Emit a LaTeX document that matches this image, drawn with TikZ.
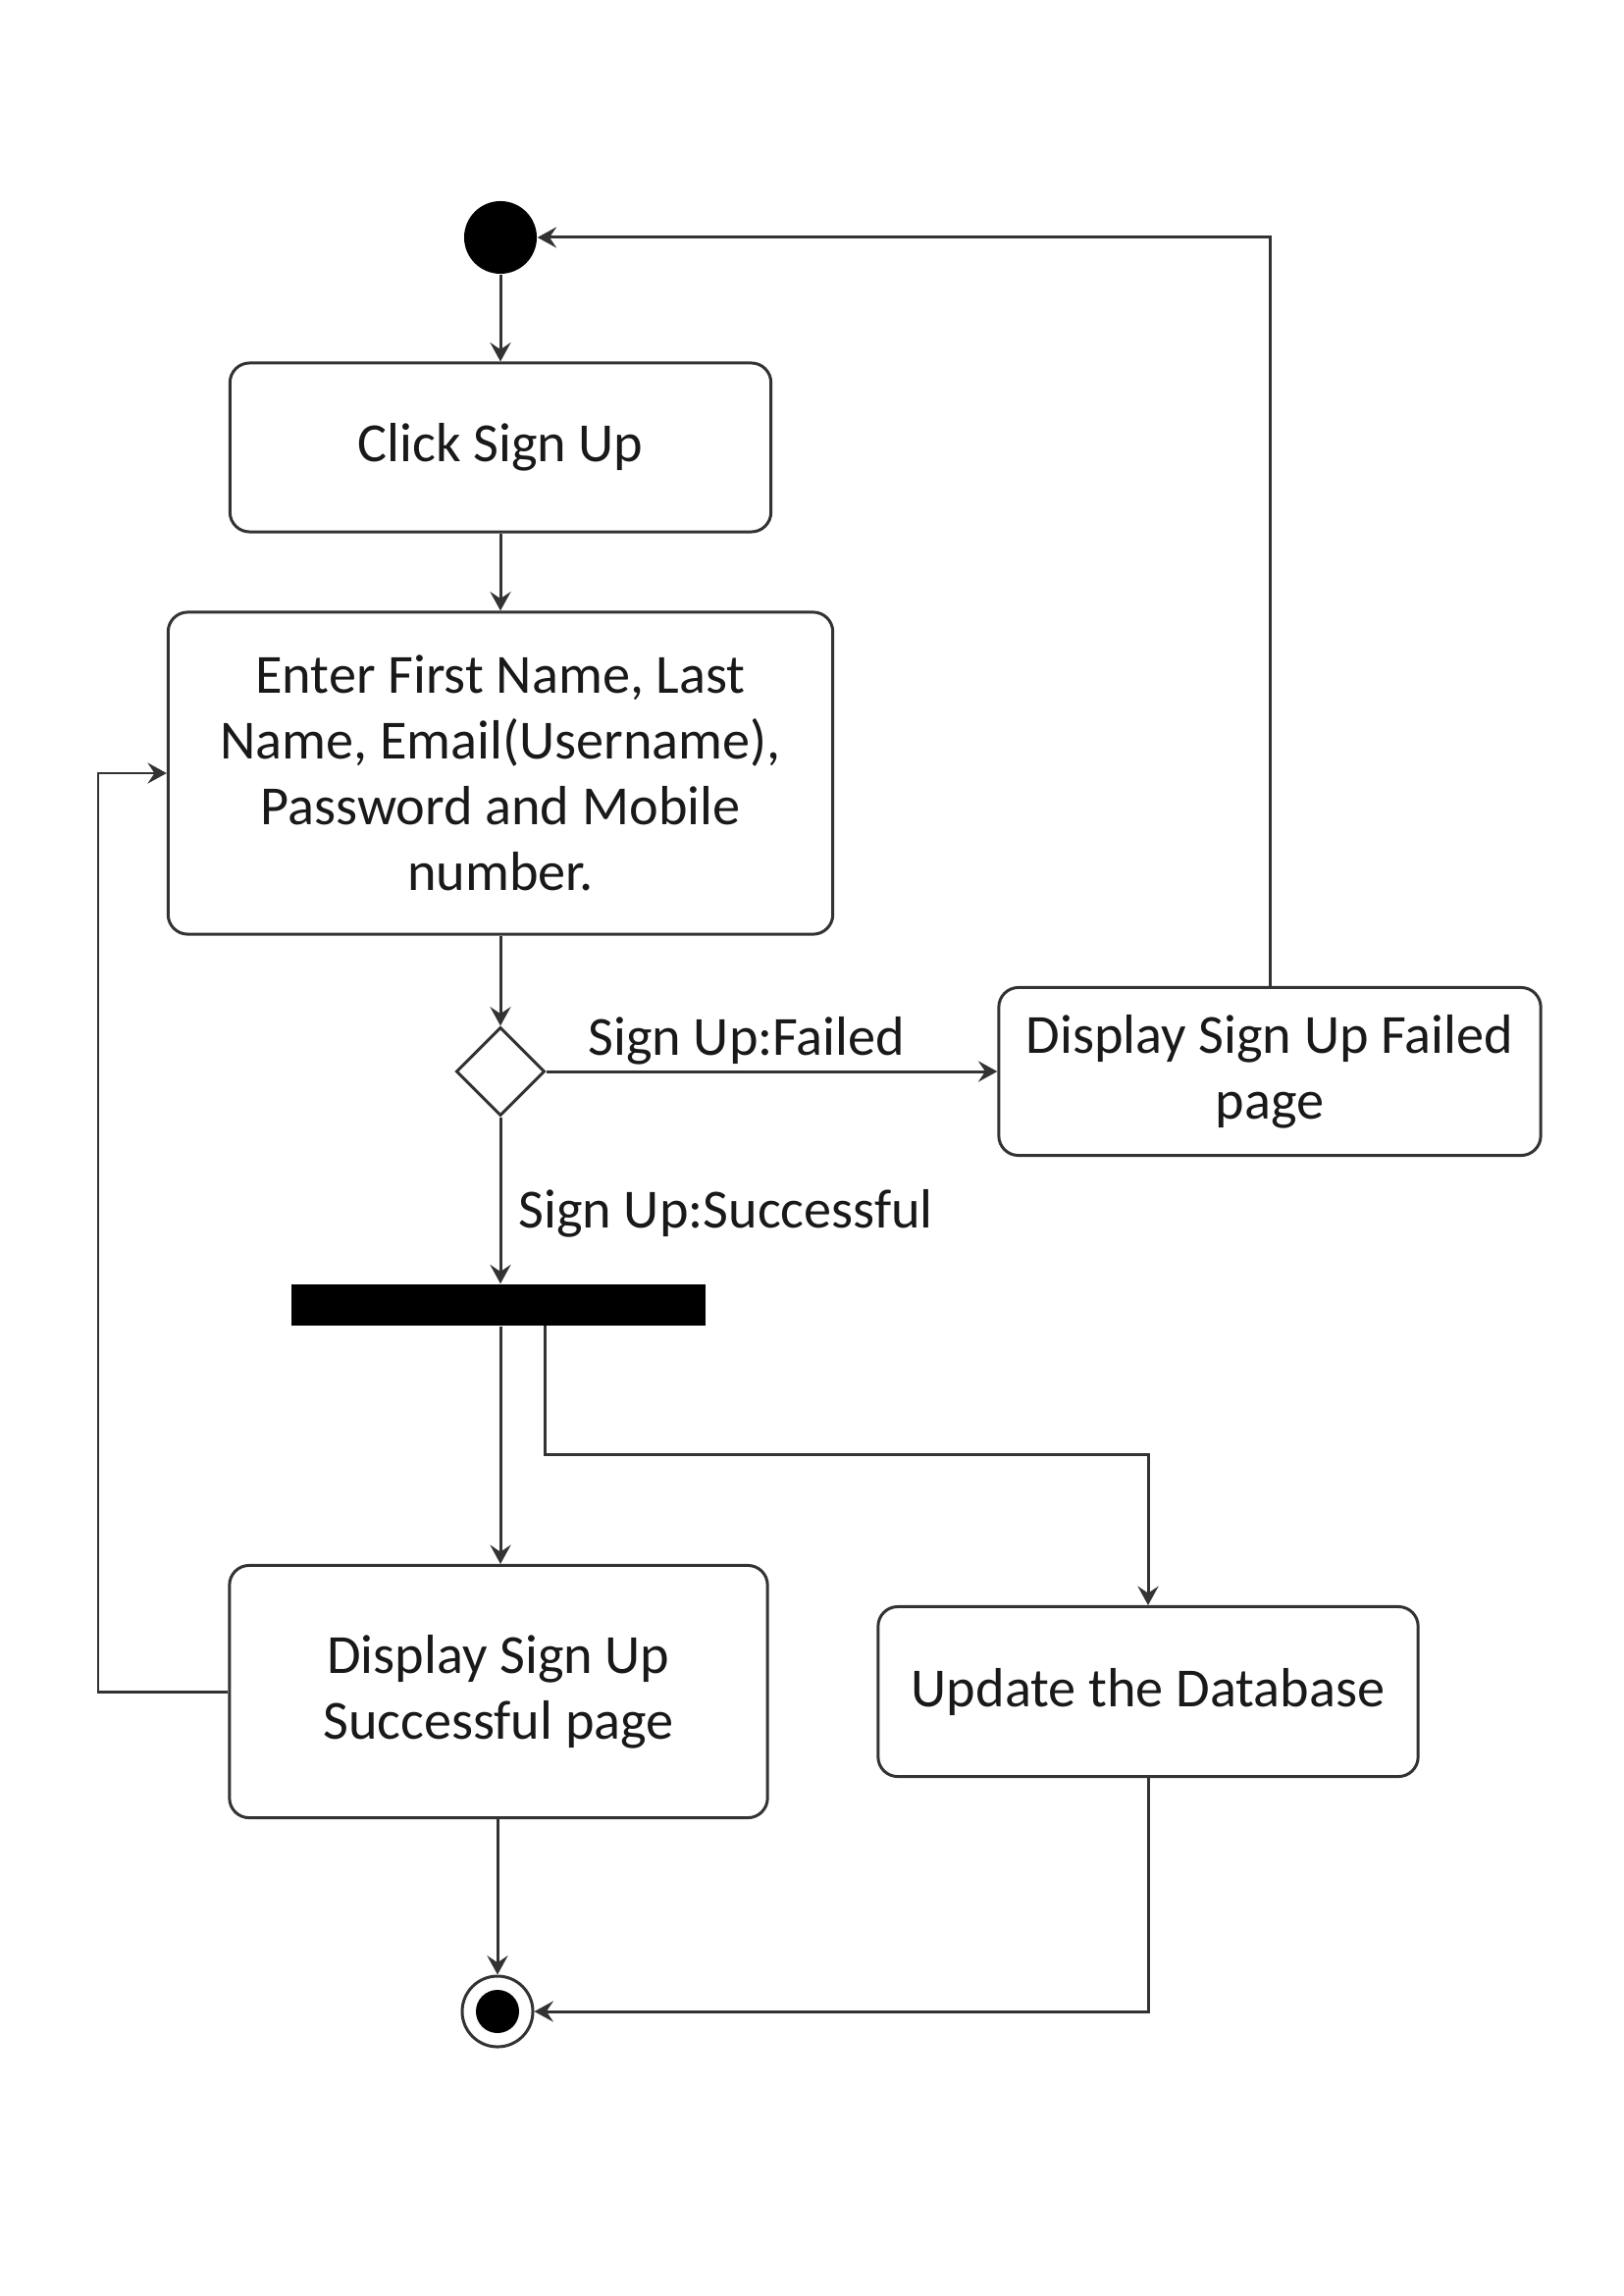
\documentclass[tikz,border=0pt]{standalone}
\usepackage{fontspec}
\setmainfont{Carlito}
\usetikzlibrary{arrows.meta,shapes.geometric}
\definecolor{ln}{HTML}{333333}
\begin{document}
\begin{tikzpicture}[x=0.01cm,y=-0.01cm,
  every node/.style={font=\fontsize{16}{19}\selectfont, text=black!90},
  act/.style={draw=ln, line width=0.85pt, rounded corners=0.2cm, align=center, inner sep=0pt},
  flow/.style={draw=ln, line width=0.85pt, -{Stealth[length=5.5pt,width=6pt,inset=2pt]}},
  lbl/.style={inner sep=0pt}]
\useasboundingbox (0,0) rectangle (1655,2340);
\fill[white] (0,0) rectangle (1655,2340);
% start
\node[circle, fill=black, minimum size=0.74cm, inner sep=0pt] (start) at (510,242) {};
\node[act, minimum width=5.51cm, minimum height=1.72cm] (click) at (510,456) {Click Sign Up};
\node[act, minimum width=6.77cm, minimum height=3.28cm] (enter) at (510,788)
  {Enter First Name, Last\\Name, Email(Username),\\Password and Mobile\\number.};
\node[diamond, draw=ln, line width=0.85pt, minimum width=0.9cm, minimum height=0.9cm, inner sep=0pt, aspect=1] (dec) at (510,1092) {};
\node[act, minimum width=5.52cm, minimum height=1.71cm] (failed) at (1294,1092)
  {Display Sign Up Failed\\page};
\node[fill=black, minimum width=4.22cm, minimum height=0.42cm, inner sep=0pt] (fork) at (508,1330) {};
\node[act, minimum width=5.48cm, minimum height=2.57cm] (succ) at (508,1724)
  {Display Sign Up\\Successful page};
\node[act, minimum width=5.50cm, minimum height=1.73cm] (upd) at (1170,1724) {Update the Database};
% end
\node[circle, draw=ln, line width=0.85pt, fill=white, minimum size=0.72cm, inner sep=0pt] (end) at (507,2050) {};
\node[circle, fill=black, minimum size=0.44cm, inner sep=0pt] (endin) at (507,2050) {};
% connectors
\draw[flow] (start) -- (click);
\draw[flow] (click) -- (enter);
\draw[flow] (enter.south -| dec) -- (dec);
\draw[flow] (dec) -- node[lbl, pos=0.09, anchor=base west, yshift=0.16cm] {Sign Up:Failed} (failed);
\draw[flow] (dec) -- node[lbl, pos=0.58, anchor=west, xshift=0.17cm] {Sign Up:Successful} (fork.north -| dec);
\draw[flow] (fork.south -| dec) -- (succ.north -| dec);
\coordinate (fb) at (555,1351);
\draw[flow] (fb) |- (1170,1482) -- (upd);
\draw[flow] (succ.west) -- (100,1724) |- (enter.west);
\draw[flow] (failed.north) |- (start);
\draw[flow] (succ.south -| end) -- (end);
\draw[flow] (upd.south) |- (end);
\end{tikzpicture}
\end{document}
